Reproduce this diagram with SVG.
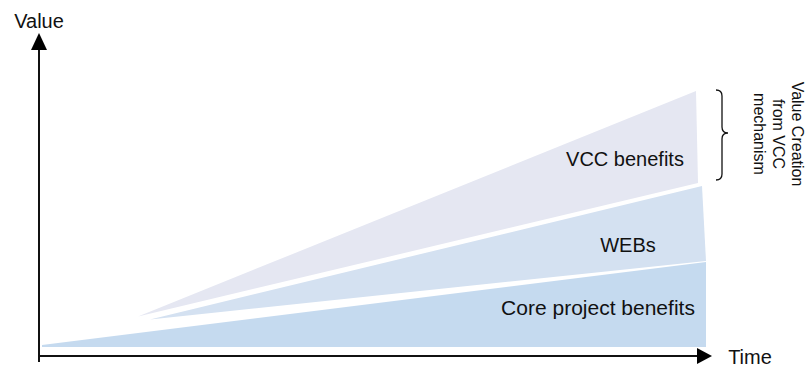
<svg xmlns="http://www.w3.org/2000/svg" width="808" height="367" viewBox="0 0 808 367">
  <style>
    .lbl { font-family: "Liberation Sans", Arial, sans-serif; font-size: 20px; fill: #111; }
    .side { font-family: "Liberation Sans", Arial, sans-serif; font-size: 16px; fill: #111; text-anchor: middle; }
    .axis { stroke: #111; stroke-width: 2; fill: none; }
    .head { fill: #000; }
  </style>
  <rect width="808" height="367" fill="#ffffff"/>
  <g id="core-benefits">
    <polygon points="42,345 706,262 706,347 42,347" fill="#c5daef"/>
    <text class="lbl" x="598" y="315" text-anchor="middle" style="font-size:21px">Core project benefits</text>
  </g>
  <g id="webs">
    <polygon points="150,319.5 702,186 706,261" fill="#d4e1f1"/>
    <text class="lbl" x="628" y="252" text-anchor="middle">WEBs</text>
  </g>
  <g id="vcc-benefits">
    <polygon points="138,316.5 696,91 698,183" fill="#e5e7f2"/>
    <text class="lbl" x="625" y="166" text-anchor="middle">VCC benefits</text>
  </g>
  <g id="connectors">
    <line class="axis" x1="39" y1="362" x2="39" y2="48"/>
    <polygon class="head" points="39,33 31,50 47,50"/>
    <line class="axis" x1="38" y1="356" x2="698" y2="356"/>
    <polygon class="head" points="712,356 697,348 697,364"/>
    <path d="M716,90 Q722,90 722,96 L722,127 Q722,133 728,133 Q722,133 722,139 L722,174 Q722,180 716,180" stroke="#111" stroke-width="1.3" fill="none"/>
  </g>
  <g id="axis-labels">
    <text class="lbl" x="39" y="28" text-anchor="middle">Value</text>
    <text class="lbl" x="750" y="364" text-anchor="middle">Time</text>
  </g>
  <g id="value-creation-label">
    <text class="side" transform="translate(792,134) rotate(90)">Value Creation</text>
    <text class="side" transform="translate(773,134) rotate(90)">from VCC</text>
    <text class="side" transform="translate(754,134) rotate(90)">mechanism</text>
  </g>
</svg>
